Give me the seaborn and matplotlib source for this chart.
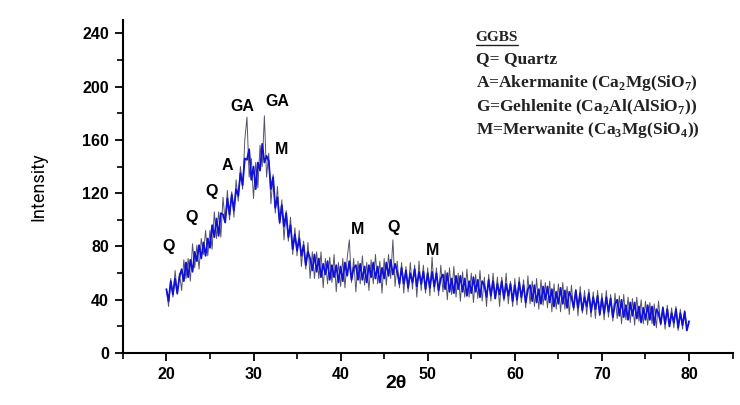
import numpy as np
import pandas as pd
import matplotlib
matplotlib.use("Agg")
import matplotlib.pyplot as plt
from matplotlib.ticker import MultipleLocator
import seaborn as sns

# ---------------- data ----------------
# raw XRD counts (grey spikes), 2theta = 20 .. 80 in 0.25 degree steps
raw_intensity = [
    48, 35, 56, 42, 62, 44, 60, 47, 70, 56, 71, 54, 82, 64, 81, 63, 86, 74, 92, 73,
    92, 78, 106, 86, 106, 87, 117, 98, 122, 100, 121, 102, 130, 114, 140, 123, 160, 177, 132, 146,
    116, 143, 124, 156, 140, 178, 132, 150, 112, 134, 105, 125, 97, 115, 85, 107, 84, 102, 74, 94,
    73, 92, 65, 84, 63, 83, 56, 76, 56, 76, 56, 76, 49, 71, 52, 72, 53, 74, 46, 68,
    50, 71, 49, 71, 85, 53, 71, 46, 69, 52, 73, 51, 68, 47, 70, 52, 74, 52, 69, 45,
    71, 51, 74, 56, 85, 50, 69, 49, 68, 45, 65, 46, 68, 48, 66, 42, 69, 47, 66, 45,
    64, 43, 72, 46, 64, 43, 66, 46, 62, 40, 64, 44, 65, 42, 60, 39, 61, 42, 63, 42,
    60, 38, 59, 41, 62, 39, 57, 35, 59, 39, 60, 41, 57, 35, 57, 39, 60, 37, 54, 35,
    56, 36, 57, 38, 55, 34, 58, 37, 54, 35, 56, 33, 55, 36, 53, 34, 54, 31, 52, 33,
    52, 31, 53, 33, 50, 29, 51, 32, 48, 28, 50, 30, 47, 29, 48, 27, 46, 26, 47, 28,
    45, 25, 47, 27, 44, 24, 45, 26, 43, 22, 44, 25, 42, 23, 41, 21, 42, 24, 40, 22,
    39, 21, 38, 22, 37, 19, 39, 21, 35, 18, 36, 20, 34, 19, 35, 17, 33, 18, 32, 19,
    22,
]
# dense blue trace, 2theta = 20 .. 80 in 0.25 degree steps
core_intensity = [
    48, 39, 54, 44, 56, 45, 57, 63, 54, 68, 57, 70, 61, 76, 69, 81, 71, 83, 73, 86,
    79, 96, 87, 101, 88, 105, 104, 98, 116, 104, 119, 107, 123, 118, 135, 126, 146, 145, 153, 130,
    140, 123, 143, 137, 157, 143, 148, 144, 123, 132, 109, 117, 98, 111, 95, 105, 87, 96, 78, 89,
    77, 86, 73, 81, 66, 76, 71, 62, 74, 61, 71, 57, 67, 59, 69, 55, 66, 57, 66, 53,
    65, 54, 68, 58, 69, 55, 64, 66, 55, 67, 55, 65, 53, 66, 57, 68, 56, 65, 53, 64,
    56, 68, 58, 70, 59, 67, 61, 52, 64, 52, 62, 49, 60, 53, 63, 50, 61, 52, 61, 48,
    60, 49, 61, 50, 60, 47, 56, 59, 48, 60, 46, 56, 45, 58, 48, 58, 46, 56, 43, 54,
    45, 57, 46, 55, 42, 54, 51, 42, 55, 43, 54, 41, 52, 44, 54, 41, 52, 43, 52, 39,
    51, 40, 53, 42, 51, 38, 48, 51, 39, 51, 38, 48, 37, 50, 40, 50, 38, 48, 35, 46,
    37, 49, 37, 47, 34, 46, 42, 34, 47, 34, 45, 32, 42, 35, 45, 31, 42, 33, 43, 29,
    41, 30, 42, 31, 41, 27, 37, 40, 28, 40, 27, 36, 25, 38, 28, 38, 26, 35, 23, 34,
    25, 36, 25, 35, 21, 33, 30, 22, 34, 22, 33, 20, 30, 23, 33, 19, 30, 21, 31, 17,
    24,
]
theta_start, theta_end = 20, 80

peak_labels = ["Q", "Q", "Q", "A", "GA", "GA", "M", "M", "Q", "M"]
peak_x = [20.3, 22.9, 25.2, 27.0, 28.7, 32.7, 33.2, 42.0, 46.1, 50.5]
peak_y = [80, 102, 121, 141, 185, 189, 153, 93, 94, 77]

legend_title = "GGBS"
legend_lines = [
    "Q= Quartz",
    r"A=Akermanite (Ca$_\mathbf{2}$Mg(SiO$_\mathbf{7}$)",
    r"G=Gehlenite (Ca$_\mathbf{2}$Al(AlSiO$_\mathbf{7}$))",
    r"M=Merwanite (Ca$_\mathbf{3}$Mg(SiO$_\mathbf{4}$))",
]

raw_df = pd.DataFrame({
    "two_theta": np.linspace(theta_start, theta_end, len(raw_intensity)),
    "intensity": raw_intensity,
})
core_df = pd.DataFrame({
    "two_theta": np.linspace(theta_start, theta_end, len(core_intensity)),
    "intensity": core_intensity,
})

# ---------------- style ----------------
sns.set_style("ticks")
plt.rcParams["font.family"] = ["Liberation Sans", "DejaVu Sans"]
plt.rcParams["text.color"] = "black"
plt.rcParams["mathtext.fontset"] = "custom"
plt.rcParams["mathtext.rm"] = "Liberation Serif"
plt.rcParams["mathtext.bf"] = "Liberation Serif:bold"

fig = plt.figure(figsize=(7.4, 4.05), dpi=100)
ax = fig.add_axes([0.166, 0.128, 0.824, 0.823])

sns.lineplot(data=raw_df, x="two_theta", y="intensity", ax=ax,
             color="#55556a", linewidth=0.7, estimator=None, sort=False)
sns.lineplot(data=core_df, x="two_theta", y="intensity", ax=ax,
             color="#1010d8", linewidth=1.3, estimator=None, sort=False)

ax.set_xlim(15, 85)
ax.set_ylim(0, 250)
ax.set_xticks([20, 30, 40, 50, 60, 70, 80])
ax.set_yticks([0, 40, 80, 120, 160, 200, 240])
ax.xaxis.set_minor_locator(MultipleLocator(5))
ax.yaxis.set_minor_locator(MultipleLocator(20))
ax.tick_params(which="major", length=6, width=1.3, direction="out",
               labelsize=11.5, colors="black", pad=4)
ax.tick_params(which="minor", length=4, width=1.2, direction="out", colors="black")
for lbl in ax.get_xticklabels() + ax.get_yticklabels():
    lbl.set_fontweight("bold")

for side in ["top", "right"]:
    ax.spines[side].set_visible(False)
for side in ["left", "bottom"]:
    ax.spines[side].set_linewidth(1.5)
    ax.spines[side].set_color("black")

ax.set_ylabel("Intensity", fontsize=13, color="black",
              family=["Roboto", "Liberation Sans"])
ax.yaxis.set_label_coords(-0.139, 0.5)
ax.yaxis.label.set_va("center")
ax.set_xlabel("2θ", fontsize=14, fontweight="bold", color="black")
ax.xaxis.set_label_coords(0.4475, -0.09)
ax.xaxis.label.set_va("center")

for lab, x, y in zip(peak_labels, peak_x, peak_y):
    ax.text(x, y, lab, fontsize=11.5, fontweight="bold", ha="center", va="center",
            color="black")

# legend-like annotation block (serif, bold)
tx = (476 - 123) / 610
ty0 = (353 - 38) / 333
title = ax.text(tx, ty0, legend_title, transform=ax.transAxes, fontsize=11,
                fontweight="bold", family="Liberation Serif", va="center", ha="left",
                color="#222222")
line_y = [59, 83, 107, 130]
for txt, py in zip(legend_lines, line_y):
    ax.text(tx, (353 - py) / 333, txt, transform=ax.transAxes, fontsize=12.5,
            fontweight="bold", family="Liberation Serif", va="center", ha="left",
            color="#222222")

fig.canvas.draw()
bb = title.get_window_extent()
ax.plot([bb.x0, bb.x1], [bb.y0 - 1, bb.y0 - 1], transform=None,
        color="#222222", linewidth=1.0, clip_on=False)

fig.savefig("out.png", dpi=100)
